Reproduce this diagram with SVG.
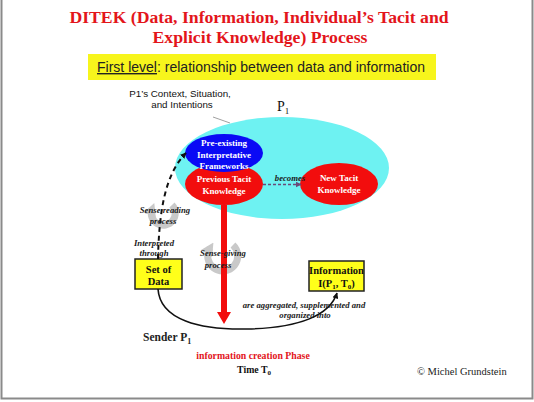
<svg xmlns="http://www.w3.org/2000/svg" width="534" height="402" viewBox="0 0 534 402">
<style>
.ser{font-family:"Liberation Serif","Times New Roman",serif}
.san{font-family:"Liberation Sans",Arial,sans-serif}
.title{font-size:17.7px;font-weight:bold;fill:#e3151b}
.wb{font-size:9px;font-weight:bold;fill:#ffffff}
.it{font-size:8.7px;font-style:italic;font-weight:bold;fill:#1a1a1a}
.box{fill:#ffff1a;stroke:#222;stroke-width:1.5}
.bx{font-size:10.5px;font-weight:bold;fill:#111}
.circ{fill:none;stroke:#c9c9c9;stroke-width:7}
</style>
<defs>
<marker id="ah" viewBox="0 0 10 10" refX="9" refY="5" markerWidth="6" markerHeight="6" orient="auto" markerUnits="userSpaceOnUse"><path d="M0,0 L10,5 L0,10 z" fill="#111"/></marker>
<marker id="ahp" viewBox="0 0 10 10" refX="9" refY="5" markerWidth="6" markerHeight="6" orient="auto" markerUnits="userSpaceOnUse"><path d="M0,0 L10,5 L0,10 z" fill="#6a4a7a"/></marker>
<marker id="ahg" viewBox="0 0 10 10" refX="5" refY="5" markerWidth="13" markerHeight="13" orient="auto" markerUnits="userSpaceOnUse"><path d="M0,0 L10,5 L0,10 z" fill="#c9c9c9"/></marker>
</defs>
<rect width="534" height="402" fill="#ffffff"/>
<path d="M1.5,0 V398.5 H532.5 V0" fill="none" stroke="#8a8a8a" stroke-width="2"/>

<g id="title">
<text class="ser title" x="259" y="23" text-anchor="middle">DITEK (Data, Information,  Individual’s Tacit and</text>
<text class="ser title" x="260" y="43" text-anchor="middle">Explicit Knowledge) Process</text>
</g>
<g id="subtitle">
<rect x="88" y="54" width="348" height="26" fill="#f7f51c"/>
<text class="san" x="97" y="72" font-size="14" fill="#222" textLength="328" lengthAdjust="spacingAndGlyphs"><tspan text-decoration="underline">First level</tspan>: relationship between data and information</text>
</g>

<g id="context">
<text class="san" x="180" y="97" font-size="9.8" fill="#111" text-anchor="middle">P1’s Context, Situation,</text>
<text class="san" x="182" y="107.5" font-size="9.8" fill="#111" text-anchor="middle">and Intentions</text>
<line x1="213" y1="117" x2="230" y2="123" stroke="#888" stroke-width="0.8"/>
</g>

<g id="p1">
<ellipse cx="282" cy="168" rx="107" ry="51" fill="#6ef2f2"/>
<text class="ser" x="277" y="111" font-size="14" fill="#111">P<tspan font-size="9" dy="3">1</tspan></text>
</g>

<g id="previous-tacit">
<ellipse cx="224" cy="184" rx="39" ry="21" fill="#f20d0d"/>
<text class="ser wb" x="224" y="182" text-anchor="middle">Previous Tacit</text>
<text class="ser wb" x="224" y="194" text-anchor="middle">Knowledge</text>
</g>
<g id="frameworks">
<ellipse cx="224" cy="153" rx="39" ry="19" fill="#0a0af5"/>
<text class="ser wb" x="224" y="146" text-anchor="middle">Pre-existing</text>
<text class="ser wb" x="224" y="157.5" text-anchor="middle">Interpretative</text>
<text class="ser wb" x="224" y="169" text-anchor="middle">Frameworks</text>
</g>
<g id="new-tacit">
<ellipse cx="339" cy="184" rx="39" ry="21" fill="#f20d0d"/>
<text class="ser wb" x="339" y="181" text-anchor="middle">New Tacit</text>
<text class="ser wb" x="339" y="193" text-anchor="middle">Knowledge</text>
</g>

<g id="set-of-data">
<rect class="box" x="135" y="259" width="47" height="30"/>
<text class="ser bx" x="158.5" y="273" text-anchor="middle">Set of</text>
<text class="ser bx" x="158.5" y="285" text-anchor="middle">Data</text>
</g>
<g id="information">
<rect class="box" x="309" y="261" width="55" height="30"/>
<text class="ser bx" x="336.5" y="274" text-anchor="middle">Information</text>
<text class="ser bx" x="336.5" y="287" text-anchor="middle">I(P<tspan font-size="7" dy="2">1</tspan><tspan dy="-2">, T</tspan><tspan font-size="7" dy="2">0</tspan><tspan dy="-2">)</tspan></text>
</g>

<g id="connectors">
<path class="circ" d="M172,205 A12,12 0 1 1 152,209" marker-end="url(#ahg)"/>
<path class="circ" d="M233,245 A15,15 0 1 1 210,248" marker-end="url(#ahg)"/>
<line x1="263" y1="184.5" x2="301" y2="184.5" stroke="#6a4a7a" stroke-width="1.3" stroke-dasharray="3,2" marker-end="url(#ahp)"/>
<path d="M158,259 C159,215 164,175 186,153" fill="none" stroke="#111" stroke-width="2" stroke-dasharray="5,4" marker-end="url(#ah)"/>
<path d="M221,205 H227 V312 H231 L224,324 L217,312 H221 Z" fill="#f20d0d"/>
<path d="M158,289 C160,320 200,330 247,329 C300,328 330,315 337,293" fill="none" stroke="#111" stroke-width="1.6" marker-end="url(#ah)"/>
</g>

<g id="labels">
<text class="ser it" x="290" y="181" font-size="8" fill="#223" text-anchor="middle">becomes</text>
<text class="ser it" x="165" y="213" text-anchor="middle">Sense reading</text>
<text class="ser it" x="163" y="223.5" text-anchor="middle">process</text>
<text class="ser it" x="154" y="246" text-anchor="middle">Interpreted</text>
<text class="ser it" x="154" y="255.5" text-anchor="middle">through</text>
<text class="ser it" x="223" y="256" text-anchor="middle">Sense-giving</text>
<text class="ser it" x="218" y="268" text-anchor="middle">process</text>
<text class="ser it" x="304" y="308" font-size="8.5" text-anchor="middle">are aggregated, supplemented and</text>
<text class="ser it" x="305" y="318" font-size="8.5" text-anchor="middle">organized into</text>
<text class="ser" x="143" y="341" font-size="11.5" font-weight="bold" fill="#222">Sender P<tspan font-size="8" dy="3">1</tspan></text>
<text class="ser" x="253" y="359" font-size="9.8" font-weight="bold" fill="#e3151b" text-anchor="middle">information creation Phase</text>
<text class="ser" x="254" y="373" font-size="9.8" font-weight="bold" fill="#111" text-anchor="middle">Time T<tspan font-size="7" dy="2">0</tspan></text>
<text class="ser" x="417" y="375" font-size="10.5" fill="#222">© Michel Grundstein</text>
</g>
</svg>
